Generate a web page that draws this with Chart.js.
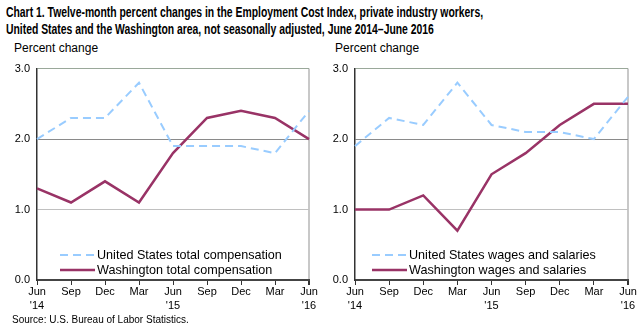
<!DOCTYPE html>
<html>
<head>
<meta charset="utf-8">
<script src="https://cdn.jsdelivr.net/npm/chart.js@4.4.0/dist/chart.umd.min.js"></script>
<style>
  body { margin: 0; background: #fff; width: 643px; height: 332px; overflow: hidden; position: relative; font-family: "Liberation Sans", Arial, sans-serif; }
  .title { position: absolute; left: 6px; top: 4px; font-weight: bold; font-size: 14px; line-height: 17px; color: #000; white-space: nowrap; transform-origin: 0 0; }
  .title span { display: inline-block; }
  .unit { position: absolute; top: 41px; font-size: 12px; color: #000; }
  .source { position: absolute; left: 12px; top: 314px; font-size: 10px; color: #000; }
  .box { position: absolute; top: 55px; height: 260px; }
</style>
</head>
<body>
<div class="title" id="title"><span id="titleLine1">Chart 1. Twelve-month percent changes in the Employment Cost Index, private industry workers,</span><br><span>United States and the Washington area, not seasonally adjusted, June 2014&ndash;June 2016</span></div>
<div class="unit" style="left:14px">Percent change</div>
<div class="unit" style="left:335px">Percent change</div>
<div class="box" style="left:0; width:320px"><canvas id="leftChart"></canvas></div>
<div class="box" style="left:320px; width:323px"><canvas id="rightChart"></canvas></div>
<div class="source">Source: U.S. Bureau of Labor Statistics.</div>

<script>
// quarter labels, June 2014 to June 2016
const quarters = [["Jun", "'14"], "Sep", "Dec", "Mar", ["Jun", "'15"], "Sep", "Dec", "Mar", ["Jun", "'16"]];
const yTicks = [0, 1, 2, 3];

// total compensation
const usTotalComp = [2.0, 2.3, 2.3, 2.8, 1.9, 1.9, 1.9, 1.8, 2.4];
const waTotalComp = [1.3, 1.1, 1.4, 1.1, 1.8, 2.3, 2.4, 2.3, 2.0];

// wages and salaries
const usWages = [1.9, 2.3, 2.2, 2.8, 2.2, 2.1, 2.1, 2.0, 2.6];
const waWages = [1.0, 1.0, 1.2, 0.7, 1.5, 1.8, 2.2, 2.5, 2.5];

const US_COLOR = "#99ccff";
const WA_COLOR = "#993366";
const FONT = "'Liberation Sans', Arial, sans-serif";

// the original title is set in a narrow face, squeeze ours to the same width
const titleEl = document.getElementById("title");
const line1 = document.getElementById("titleLine1");
titleEl.style.transform = "scaleX(" + (477 / line1.offsetWidth) + ")";

// draws the legend inside the plot, bottom left
const insideLegend = {
    id: "insideLegend",
    afterDatasetsDraw(chart, args, opts) {
        const ctx = chart.ctx;
        const area = chart.chartArea;
        ctx.save();
        ctx.font = "12.6px " + FONT;
        ctx.textBaseline = "middle";
        chart.data.datasets.forEach((ds, i) => {
            const y = area.bottom - opts.bottom + i * 15;
            const x = area.left + opts.left;
            ctx.beginPath();
            ctx.strokeStyle = ds.borderColor;
            ctx.lineWidth = ds.borderWidth;
            ctx.setLineDash(ds.borderDash || []);
            ctx.moveTo(x, y);
            ctx.lineTo(x + 35, y);
            ctx.stroke();
            ctx.setLineDash([]);
            ctx.fillStyle = "#000";
            ctx.fillText(ds.label, x + 37, y + 1);
        });
        ctx.restore();
    }
};

function gridColor(c) {
    const v = c.tick && c.tick.value;
    if (v === 3) return "#9aa89a";
    if (v === 2) return "#8a8a8a";
    if (v === 1) return "#c0c0c0";
    return "transparent";
}

function makeChart(id, usData, waData, usLabel, waLabel, axisWidth, padRight, legendLeft) {
    return new Chart(document.getElementById(id), {
        type: "line",
        data: {
            labels: quarters,
            datasets: [
                {
                    label: usLabel,
                    data: usData,
                    borderColor: US_COLOR,
                    borderWidth: 2,
                    borderDash: [8, 5],
                    pointRadius: 0,
                    tension: 0,
                    fill: false
                },
                {
                    label: waLabel,
                    data: waData,
                    borderColor: WA_COLOR,
                    borderWidth: 2.5,
                    pointRadius: 0,
                    tension: 0,
                    fill: false
                }
            ]
        },
        options: {
            responsive: true,
            maintainAspectRatio: false,
            animation: false,
            layout: { padding: { top: 12, right: padRight, left: 0, bottom: 0 } },
            plugins: {
                legend: { display: false },
                tooltip: { enabled: false },
                insideLegend: { left: legendLeft, bottom: 25 }
            },
            scales: {
                x: {
                    offset: false,
                    afterFit: (s) => { s.height = 35; },
                    grid: {
                        drawOnChartArea: true,
                        color: (c) => c.index === quarters.length - 1 ? "#c8c8c8" : "transparent",
                        lineWidth: (c) => c.index === quarters.length - 1 ? 2 : 1,
                        tickColor: "#333",
                        tickLength: 5
                    },
                    border: { color: "#444", width: 2 },
                    ticks: {
                        color: "#000",
                        font: { family: FONT, size: 11, lineHeight: 1.25 },
                        maxRotation: 0,
                        autoSkip: false,
                        padding: 0
                    }
                },
                y: {
                    min: 0,
                    max: 3,
                    afterFit: (s) => { s.width = axisWidth; },
                    afterBuildTicks: (s) => { s.ticks = yTicks.map((v) => ({ value: v })); },
                    grid: { color: gridColor, lineWidth: 1, drawTicks: false },
                    border: { color: "#333", width: 1.5 },
                    ticks: {
                        color: "#000",
                        font: { family: FONT, size: 11 },
                        padding: 7,
                        callback: (v) => v.toFixed(1)
                    }
                }
            }
        },
        plugins: [insideLegend]
    });
}

makeChart("leftChart", usTotalComp, waTotalComp,
    "United States total compensation", "Washington total compensation", 37, 11, 23);
makeChart("rightChart", usWages, waWages,
    "United States wages and salaries", "Washington wages and salaries", 35, 15, 17);
</script>
</body>
</html>
